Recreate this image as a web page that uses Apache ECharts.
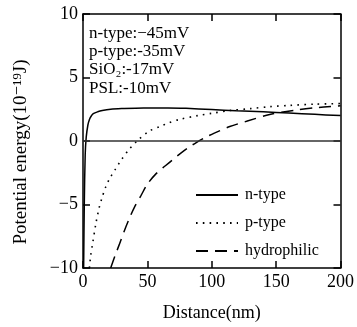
<!DOCTYPE html>
<html>
<head>
<meta charset="utf-8">
<script src="https://cdn.jsdelivr.net/npm/echarts@6/dist/echarts.min.js"></script>
<style>html,body{margin:0;padding:0;background:#fff;}#c{width:357px;height:327px;}</style>
</head>
<body>
<div id="c"></div>
<script>
// Data
const nTypeX = [0.5, 1, 1.7, 2.5, 3.8, 5, 6.3, 8, 11.4, 15, 21.5, 30, 47, 66, 80, 100, 119, 140, 160, 180, 200];
const nTypeY = [-10, -5, -1.1, 0.3, 1.26, 1.7, 1.95, 2.15, 2.3, 2.4, 2.5, 2.55, 2.6, 2.6, 2.57, 2.48, 2.38, 2.3, 2.2, 2.1, 2.0];
const pTypeX = [5, 6, 7.6, 10, 12.7, 15, 17.7, 21, 25.3, 30, 35.5, 42, 51, 60, 66, 75, 89, 100, 114, 130, 145, 160, 180, 200];
const pTypeY = [-10, -9.0, -8.0, -6.5, -5.2, -4.4, -3.6, -2.9, -2.2, -1.45, -0.7, 0, 0.75, 1.15, 1.4, 1.7, 2.0, 2.18, 2.4, 2.55, 2.7, 2.8, 2.9, 2.95];
const hydroX = [21.5, 25, 28, 32, 36, 40, 45, 50, 57, 64, 70, 76, 82, 88, 95, 102, 114, 127, 145, 165, 183, 200];
const hydroY = [-10, -9.0, -8.2, -7.1, -6.1, -5.2, -4.3, -3.4, -2.55, -1.95, -1.45, -0.95, -0.5, -0.12, 0.28, 0.62, 1.14, 1.55, 2.09, 2.43, 2.64, 2.77];
const seriesNames = ['n-type', 'p-type', 'hydrophilic'];
const xTicks = [0, 50, 100, 150, 200];
const yTicks = [-10, -5, 0, 5, 10];
const annotations = ['n-type:\u221245mV', 'p-type:-35mV', 'SiO\u2082:-17mV', 'PSL:-10mV'];
const yTitle = 'Potential energy(10\u207B\u00B9\u2079J)';
const xTitle = 'Distance(nm)';

const zip = (xs, ys) => xs.map((x, i) => [x, ys[i]]);
const FONT = '"Liberation Serif", "DejaVu Serif", serif';
const chart = echarts.init(document.getElementById('c'), null, {renderer: 'canvas'});

const frame = {lineStyle: {color: '#000', width: 1.5}};
const tickIn = {show: true, inside: true, length: 7, lineStyle: {color: '#000', width: 1.5}};
const fmtY = v => (v < 0 ? '\u2212' + Math.abs(v) : String(v));

chart.setOption({
  animation: false,
  backgroundColor: '#fff',
  grid: {left: 83, right: 11, top: 14, bottom: 54, containLabel: false},
  xAxis: [{
    type: 'value', min: xTicks[0], max: xTicks[xTicks.length - 1], interval: 50,
    name: xTitle, nameLocation: 'middle', nameGap: 36,
    nameTextStyle: {fontFamily: FONT, fontSize: 18, color: '#000'},
    axisLine: {show: true, onZero: false, ...frame}, axisTick: tickIn,
    axisLabel: {fontFamily: FONT, fontSize: 18, color: '#000', margin: 5},
    splitLine: {show: false}
  }, {
    type: 'value', position: 'top', min: xTicks[0], max: xTicks[xTicks.length - 1], interval: 50,
    axisLine: {show: true, onZero: false, ...frame}, axisTick: tickIn,
    axisLabel: {show: false}, splitLine: {show: false}
  }],
  yAxis: [{
    type: 'value', min: yTicks[0], max: yTicks[yTicks.length - 1], interval: 5,
    axisLine: {show: true, onZero: false, ...frame}, axisTick: tickIn,
    axisLabel: {fontFamily: FONT, fontSize: 18, color: '#000', margin: 5, formatter: fmtY},
    splitLine: {show: false}
  }, {
    type: 'value', position: 'right', min: yTicks[0], max: yTicks[yTicks.length - 1], interval: 5,
    axisLine: {show: true, onZero: false, ...frame}, axisTick: tickIn,
    axisLabel: {show: false}, splitLine: {show: false}
  }],
  legend: {
    orient: 'vertical', left: 195, top: 187, padding: 0,
    itemWidth: 42, itemHeight: 16, itemGap: 12,
    data: seriesNames,
    itemStyle: {opacity: 0},
    textStyle: {fontFamily: FONT, fontSize: 16, lineHeight: 16, color: '#000', padding: [0, 0, 0, 2]}
  },
  graphic: [{
    type: 'text', left: 89, top: 24,
    style: {text: annotations.join('\n'), font: '17px ' + FONT, fill: '#000', lineHeight: 18.3}
  }, {
    type: 'text', x: 21, y: 152, rotation: Math.PI / 2,
    style: {text: yTitle, font: '19px ' + FONT, fill: '#000', align: 'center', verticalAlign: 'middle'}
  }],
  series: [{
    name: seriesNames[0], type: 'line', data: zip(nTypeX, nTypeY), symbol: 'none', smooth: 0.3,
    itemStyle: {color: '#000'},
    lineStyle: {color: '#000', width: 1.5, type: 'solid'},
    markLine: {silent: true, symbol: 'none', label: {show: false},
      lineStyle: {color: '#333', width: 1.5, type: 'solid'}, data: [{yAxis: 0}]}
  }, {
    name: seriesNames[1], type: 'line', data: zip(pTypeX, pTypeY), symbol: 'none', smooth: 0.3,
    itemStyle: {color: '#000'},
    lineStyle: {color: '#000', width: 1.6, type: [1.6, 5.2]}
  }, {
    name: seriesNames[2], type: 'line', data: zip(hydroX, hydroY), symbol: 'none', smooth: 0.3,
    itemStyle: {color: '#000'},
    lineStyle: {color: '#000', width: 1.5, type: [12, 7]}
  }]
});
</script>
</body>
</html>
